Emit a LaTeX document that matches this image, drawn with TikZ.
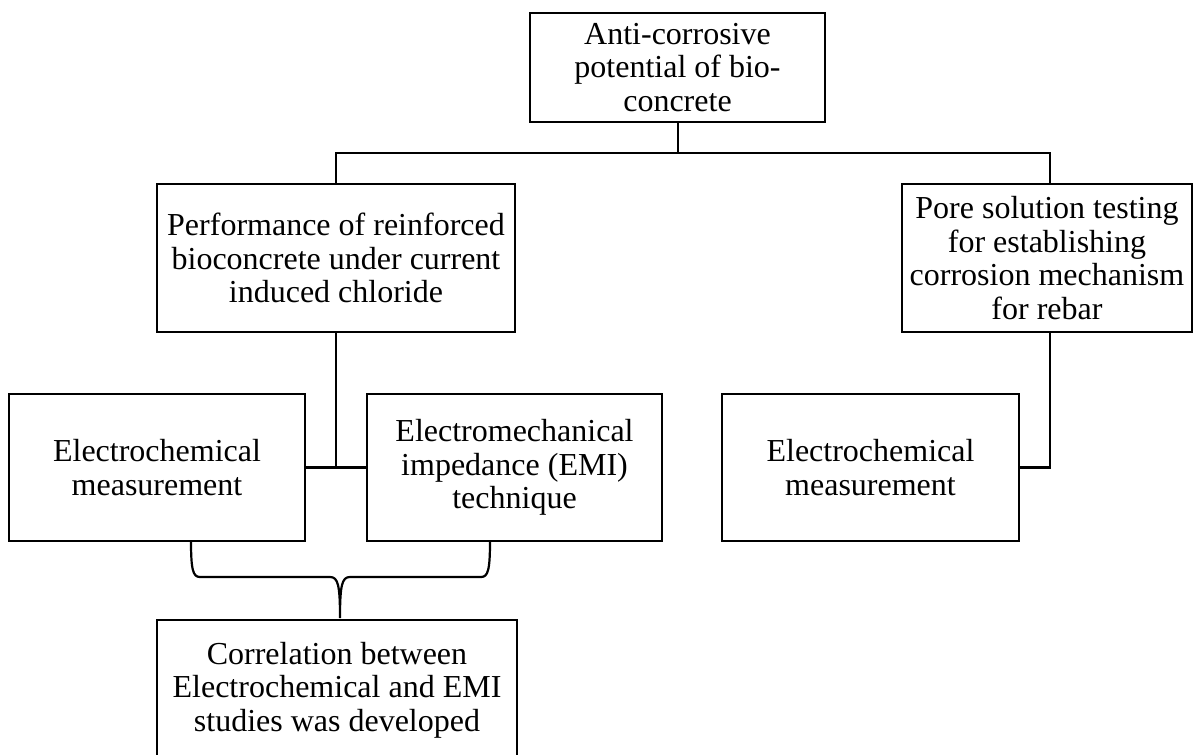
\documentclass[tikz,border=0pt]{standalone}
\usepackage{fontspec}
\setmainfont{Liberation Serif}
\begin{document}
\begin{tikzpicture}[x=1pt,y=-1pt,
  box/.style={draw,line width=2.2pt,inner sep=0pt,align=center,
    font=\fontsize{32}{33.5}\selectfont},
  conn/.style={line width=2.2pt}]
\useasboundingbox (0,0) rectangle (1195,755);
\node[box,minimum width=295pt,minimum height=109pt] (top) at (677.5,67.5) {Anti-corrosive\\potential of bio-\\concrete};
\node[box,minimum width=358pt,minimum height=148pt] (perf) at (336,258) {Performance of reinforced\\bioconcrete under current\\induced chloride};
\node[box,minimum width=290pt,minimum height=148pt] (pore) at (1047,258) {Pore solution testing\\for establishing\\corrosion mechanism\\for rebar};
\node[box,minimum width=296pt,minimum height=147pt] (elecA) at (157,467.5) {Electrochemical\\measurement};
\node[box,minimum width=295pt,minimum height=147pt] (emi) at (514.5,467.5) {Electromechanical\\impedance (EMI)\\technique};
\node[box,minimum width=297pt,minimum height=147pt] (elecB) at (870.5,467.5) {Electrochemical\\measurement};
\node[box,minimum width=360pt,minimum height=140pt] (corr) at (337,690) {Correlation between\\Electrochemical and EMI\\studies was developed};
\coordinate (hub) at (678,153);
\coordinate (join) at (336,467);
\coordinate (bl) at (191,541);
\coordinate (br) at (490,541);
\coordinate (tip) at (340,618);
\draw[conn] (top.south -| hub) -- (hub);
\draw[conn] (perf.north) |- (hub) -| (pore.north -| 1050,0);
\draw[conn] (perf.south) -- (join);
\draw[conn] (elecA.east) -- (emi.west);
\draw[conn] (pore.south -| 1050,0) |- (elecB.east);
\draw[conn] (bl) .. controls (191,570) and (193,577) .. (200,577) -- (330,577)
  .. controls (338,577) and (340,585) .. (tip)
  .. controls (340,585) and (342,577) .. (350,577) -- (481,577)
  .. controls (488,577) and (490,570) .. (br);
\end{tikzpicture}
\end{document}
